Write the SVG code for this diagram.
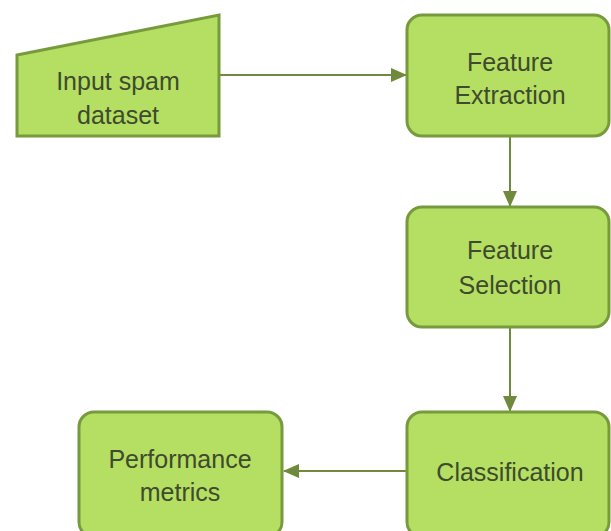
<svg xmlns="http://www.w3.org/2000/svg" width="611" height="531" viewBox="0 0 611 531">
<style>
.n{fill:#b4df62;stroke:#779a3c;stroke-width:3}
.t{font-family:"Liberation Sans",Arial,sans-serif;font-size:25px;fill:#3f4a2e;text-anchor:middle}
.c{stroke:#6f8a3c;stroke-width:2;fill:none}
</style>
<defs>
<marker id="ah" markerWidth="16" markerHeight="14" refX="15" refY="7" orient="auto" markerUnits="userSpaceOnUse">
<path d="M0,0 L16,7 L0,14 Z" fill="#6f8a3c"/>
</marker>
</defs>
<rect width="611" height="531" fill="#ffffff"/>
<g id="connectors">
<line class="c" x1="220" y1="75" x2="406" y2="75" marker-end="url(#ah)"/>
<line class="c" x1="510" y1="137" x2="510" y2="206" marker-end="url(#ah)"/>
<line class="c" x1="510" y1="328" x2="510" y2="411" marker-end="url(#ah)"/>
<line class="c" x1="406" y1="471" x2="284" y2="471" marker-end="url(#ah)"/>
</g>
<g id="input">
<path class="n" d="M17,55 L219,15 L219,136 L17,136 Z"/>
<text class="t" x="118" y="90">Input spam</text>
<text class="t" x="118" y="124">dataset</text>
</g>
<g id="extraction">
<rect class="n" x="407" y="15" width="202" height="121" rx="15"/>
<text class="t" x="510" y="71">Feature</text>
<text class="t" x="510" y="104">Extraction</text>
</g>
<g id="selection">
<rect class="n" x="407" y="207" width="202" height="120" rx="15"/>
<text class="t" x="510" y="259">Feature</text>
<text class="t" x="510" y="294">Selection</text>
</g>
<g id="classification">
<rect class="n" x="407" y="412" width="202" height="125" rx="15"/>
<text class="t" x="510" y="481">Classification</text>
</g>
<g id="performance">
<rect class="n" x="79" y="412" width="203" height="125" rx="15"/>
<text class="t" x="180" y="468">Performance</text>
<text class="t" x="180" y="501">metrics</text>
</g>
</svg>
